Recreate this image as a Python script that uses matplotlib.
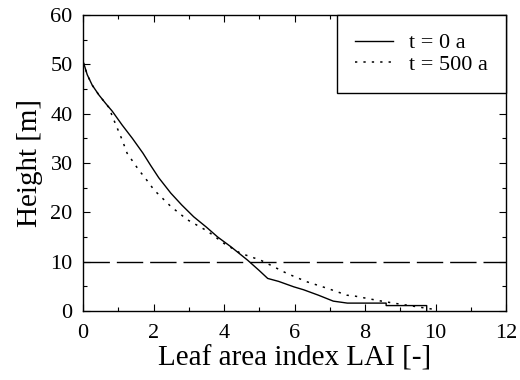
import numpy as np
import matplotlib.pyplot as plt
from matplotlib.ticker import MultipleLocator

# canopy profiles (LAI cumulated from the top, height in m)
lai_t0 = [0.0, 0.03, 0.12, 0.26, 0.45, 0.64, 0.83, 1.11, 1.4, 1.7, 1.92, 2.15,
          2.49, 2.8, 3.14, 3.5, 3.82, 4.2, 4.67, 5.0, 5.24, 5.55, 5.98, 6.26,
          6.68, 7.1, 7.5, 8.6, 8.6, 9.75, 9.75]
h_t0 = [50.5, 50, 47.9, 45.8, 43.8, 42.1, 40.5, 37.7, 35, 32, 29.5, 27,
        23.9, 21.5, 19.1, 17, 15, 13, 10.3, 8.2, 6.6, 6.0, 4.9, 4.3,
        3.2, 2.0, 1.6, 1.6, 1.1, 1.1, 0]

lai_t500 = [0.0, 0.03, 0.12, 0.26, 0.45, 0.64, 0.74, 0.83, 0.97, 1.11, 1.25,
            1.58, 1.77, 2.02, 2.49, 2.96, 3.53, 4.0, 4.47, 5.04, 5.32, 5.79,
            6.36, 6.93, 7.49, 7.73, 8.39, 8.81, 9.75, 10.0]
h_t500 = [50.5, 50, 47.9, 45.8, 43.8, 42.1, 41.2, 39.5, 37.1, 34.7, 32,
          28.6, 26.9, 24.5, 21.2, 18.5, 16.2, 13.7, 11.7, 10.3, 9.3, 7.6,
          5.9, 4.6, 3.2, 3.0, 2.1, 1.6, 0.55, 0.3]

h_ref = 10

plt.rcParams['font.family'] = ['Liberation Serif', 'DejaVu Serif']

fig = plt.figure(figsize=(5.2, 3.8), dpi=100)
ax = fig.add_axes([83/520, 69/380, 423/520, 296/380])

ax.plot(lai_t0, h_t0, color='black', lw=1.0, label='t = 0 a')
ax.plot(lai_t500, h_t500, color='black', lw=1.1, ls=(0, (1.5, 4)), label='t = 500 a')
ax.axhline(h_ref, color='black', lw=1.0, ls=(0, (19, 5)))

ax.set_xlim(0, 12)
ax.set_ylim(0, 60)
ax.xaxis.set_major_locator(MultipleLocator(2))
ax.xaxis.set_minor_locator(MultipleLocator(1))
ax.yaxis.set_major_locator(MultipleLocator(10))
ax.yaxis.set_minor_locator(MultipleLocator(5))
ax.tick_params(which='both', direction='in', top=True, right=True, width=0.8)
ax.tick_params(which='major', length=5, labelsize=16)
ax.tick_params(which='minor', length=3)
ax.tick_params(axis='x', which='major', pad=9.5)
ax.tick_params(axis='y', which='major', pad=7.5)
for s in ax.spines.values():
    s.set_linewidth(1.0)

ax.set_xlabel('Leaf area index LAI [-]', fontsize=21, labelpad=2)
ax.set_ylabel('Height [m]', fontsize=21, labelpad=5)

leg = ax.legend(loc='upper right', fontsize=16, frameon=True, fancybox=False,
                edgecolor='black', framealpha=1, borderaxespad=0,
                handlelength=1.7, handletextpad=0.75, borderpad=0.8,
                labelspacing=0.05)
leg.get_frame().set_linewidth(1.0)

fig.savefig('out.png', dpi=100)
